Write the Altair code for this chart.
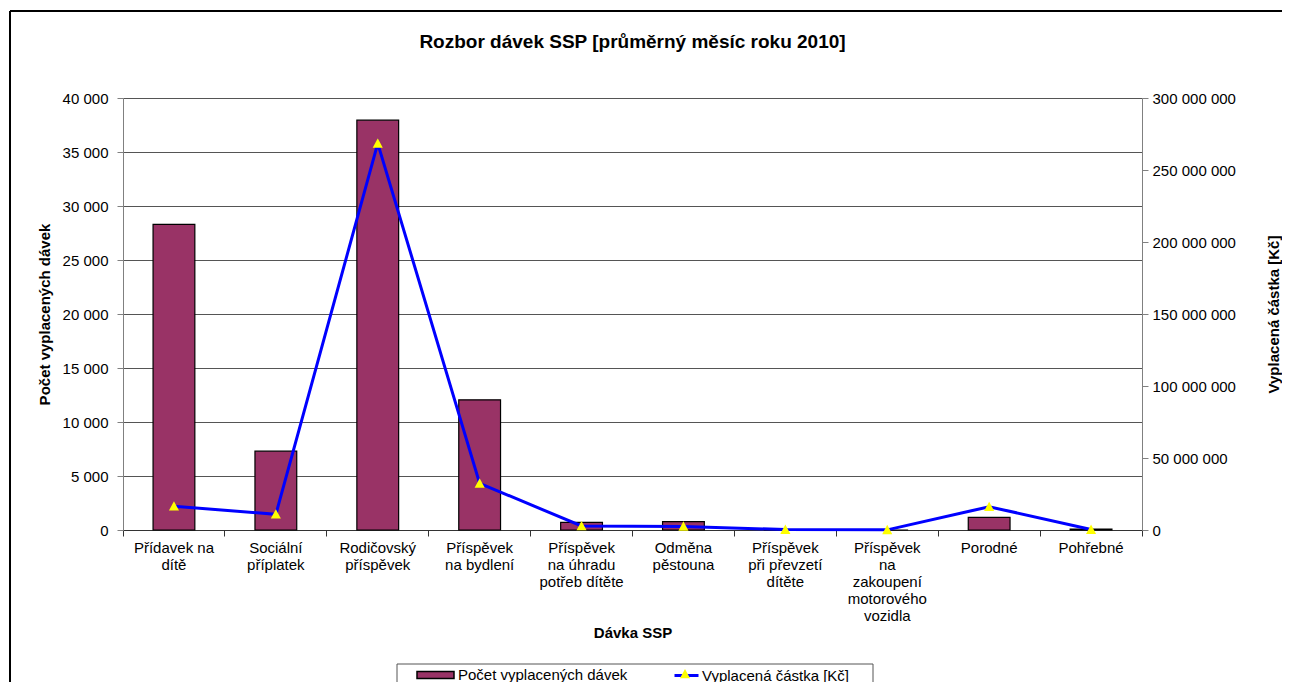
import json
import altair as alt
import pandas as pd

# ---------------- data ----------------
categories = [
    "Přídavek na dítě",
    "Sociální příplatek",
    "Rodičovský příspěvek",
    "Příspěvek na bydlení",
    "Příspěvek na úhradu potřeb dítěte",
    "Odměna pěstouna",
    "Příspěvek při převzetí dítěte",
    "Příspěvek na zakoupení motorového vozidla",
    "Porodné",
    "Pohřebné",
]
tick_labels = [
    ["Přídavek na", "dítě"],
    ["Sociální", "příplatek"],
    ["Rodičovský", "příspěvek"],
    ["Příspěvek", "na bydlení"],
    ["Příspěvek", "na úhradu", "potřeb dítěte"],
    ["Odměna", "pěstouna"],
    ["Příspěvek", "při převzetí", "dítěte"],
    ["Příspěvek", "na", "zakoupení", "motorového", "vozidla"],
    ["Porodné"],
    ["Pohřebné"],
]
counts = [28300, 7300, 37950, 12050, 700, 770, 10, 0, 1170, 80]
amounts = [16_500_000, 10_900_000, 268_500_000, 32_400_000, 2_800_000,
           2_500_000, 300_000, 100_000, 16_200_000, 300_000]
series_names = ["Počet vyplacených dávek", "Vyplacená částka [Kč]"]
left_ticks = [0, 5000, 10000, 15000, 20000, 25000, 30000, 35000, 40000]
right_ticks = [0, 50_000_000, 100_000_000, 150_000_000, 200_000_000,
               250_000_000, 300_000_000]

title_text = "Rozbor dávek SSP [průměrný měsíc roku 2010]"
x_title = "Dávka SSP"
left_title = "Počet vyplacených dávek"
right_title = "Vyplacená částka [Kč]"

df = pd.DataFrame({
    "cat": categories,
    "count": counts,
    "amount": amounts,
    "bar_series": [series_names[0]] * len(categories),
    "line_series": [series_names[1]] * len(categories),
    "marker_series": [series_names[1]] * len(categories),
})

FONT = "Liberation Sans"
FS = 15
BAR_COLOR = "#993366"
LINE_COLOR = "#0000FF"
MARKER_COLOR = "#FFFF00"

label_obj = json.dumps(dict(zip(categories, tick_labels)), ensure_ascii=False)
num_fmt = "replace(format(datum.value, ','), regexp(',', 'g'), ' ')"

x_enc = alt.X(
    "cat:N",
    sort=categories,
    scale=alt.Scale(paddingInner=0, paddingOuter=0),
    axis=alt.Axis(
        title=x_title,
        labelExpr=f"{label_obj}[datum.label]",
        labelAngle=0,
        labelFont=FONT,
        labelFontSize=FS,
        labelColor="black",
        labelLineHeight=17,
        labelPadding=4,
        labelBaseline="top",
        bandPosition=1,
        tickExtra=True,
        tickSize=6,
        tickColor="#333333",
        domainColor="#333333",
        titleFont=FONT,
        titleFontSize=FS,
        titleFontWeight="bold",
        titleColor="black",
        titlePadding=2,
        grid=False,
    ),
)

bars = alt.Chart(df).mark_bar(
    width=alt.RelativeBandSize(0.41), stroke="black", strokeWidth=1.2
).encode(
    x=x_enc,
    y=alt.Y(
        "count:Q",
        scale=alt.Scale(domain=[0, 40000], nice=False),
        axis=alt.Axis(
            title=left_title,
            values=left_ticks,
            labelExpr=num_fmt,
            labelFont=FONT,
            labelFontSize=FS,
            labelColor="black",
            labelPadding=9,
            tickSize=6,
            tickColor="#808080",
            domainColor="#808080",
            grid=True,
            gridColor="#555555",
            gridWidth=1,
            titleFont=FONT,
            titleFontSize=FS,
            titleFontWeight="bold",
            titleColor="black",
            titlePadding=10,
        ),
    ),
    color=alt.Color(
        "bar_series:N",
        scale=alt.Scale(domain=[series_names[0]], range=[BAR_COLOR]),
        legend=alt.Legend(
            title=None,
            orient="none",
            legendX=293,
            legendY=557.5,
            padding=0,
            symbolType="M-1,-0.19H1V0.19H-1Z",
            symbolSize=1369,
            symbolStrokeColor="black",
            symbolStrokeWidth=1.5,
            labelOffset=3,
            labelLimit=0,
            labelFont=FONT,
            labelFontSize=FS,
            labelColor="black",
        ),
    ),
)

right_y = alt.Y(
    "amount:Q",
    scale=alt.Scale(domain=[0, 300_000_000], nice=False),
    axis=alt.Axis(
        orient="right",
        title=right_title,
        values=right_ticks,
        labelExpr=num_fmt,
        labelFont=FONT,
        labelFontSize=FS,
        labelColor="black",
        labelPadding=4,
        tickSize=6,
        tickColor="#808080",
        domainColor="#808080",
        grid=False,
        titleAngle=270,
        titleX=131,
        titleY=216,
        titleAlign="center",
        titleBaseline="middle",
        titleFont=FONT,
        titleFontSize=FS,
        titleFontWeight="bold",
        titleColor="black",
    ),
)

line = alt.Chart(df).mark_line(strokeWidth=3).encode(
    x=x_enc,
    y=right_y,
    stroke=alt.Stroke(
        "line_series:N",
        scale=alt.Scale(domain=[series_names[1]], range=[LINE_COLOR]),
        legend=alt.Legend(
            title=None,
            orient="none",
            legendX=550,
            legendY=564,
            padding=0,
            symbolType="M-1,0H1",
            symbolSize=576,
            symbolStrokeWidth=3,
            labelOffset=2,
            labelLimit=0,
            labelFont=FONT,
            labelFontSize=FS,
            labelColor="black",
        ),
    ),
)

tri_path = "M-0.42,0.36L0,-0.42L0.42,0.36Z"
points = alt.Chart(df).mark_point(
    filled=True, fill=MARKER_COLOR, opacity=1, size=576, strokeWidth=0
).encode(
    x=x_enc,
    y=right_y,
    shape=alt.Shape(
        "marker_series:N",
        scale=alt.Scale(range=[tri_path]),
        legend=alt.Legend(
            title=None,
            orient="none",
            legendX=550,
            legendY=564,
            padding=0,
            symbolSize=576,
            symbolFillColor=MARKER_COLOR,
            symbolStrokeColor=MARKER_COLOR,
            symbolStrokeWidth=0,
            symbolOpacity=1,
            labelExpr="''",
            labelOffset=2,
            labelFont=FONT,
            labelFontSize=FS,
        ),
    ),
)

right_layer = alt.layer(line, points)

# decorative frame (outer chart border, legend box)
one = pd.DataFrame({"k": [0]})
frame_top = alt.Chart(one).mark_rule(color="black", strokeWidth=2).encode(
    x=alt.value(-113), x2=alt.value(1300), y=alt.value(-87), y2=alt.value(-87))
frame_left = alt.Chart(one).mark_rule(color="black", strokeWidth=2).encode(
    x=alt.value(-113), x2=alt.value(-113), y=alt.value(-87), y2=alt.value(700))
box_top = alt.Chart(one).mark_rule(color="#555555", strokeWidth=1).encode(
    x=alt.value(274), x2=alt.value(750), y=alt.value(566), y2=alt.value(566))
box_left = alt.Chart(one).mark_rule(color="#555555", strokeWidth=1).encode(
    x=alt.value(274), x2=alt.value(274), y=alt.value(566), y2=alt.value(700))
box_right = alt.Chart(one).mark_rule(color="#555555", strokeWidth=1).encode(
    x=alt.value(750), x2=alt.value(750), y=alt.value(566), y2=alt.value(700))

chart = alt.layer(
    bars, right_layer, frame_top, frame_left, box_top, box_left, box_right
).resolve_scale(
    y="independent"
).properties(
    width=1019,
    height=432,
    autosize=alt.AutoSizeParams(type="none"),
    padding={"left": 115, "top": 90, "right": 140, "bottom": 152},
    title=alt.TitleParams(
        title_text,
        anchor="middle",
        font=FONT,
        fontSize=19,
        fontWeight="bold",
        color="black",
        offset=-42,
    ),
).configure_view(
    stroke=None
).configure(
    background="white"
)

chart.save("out.html", embed_options={"renderer": "svg", "actions": False})
